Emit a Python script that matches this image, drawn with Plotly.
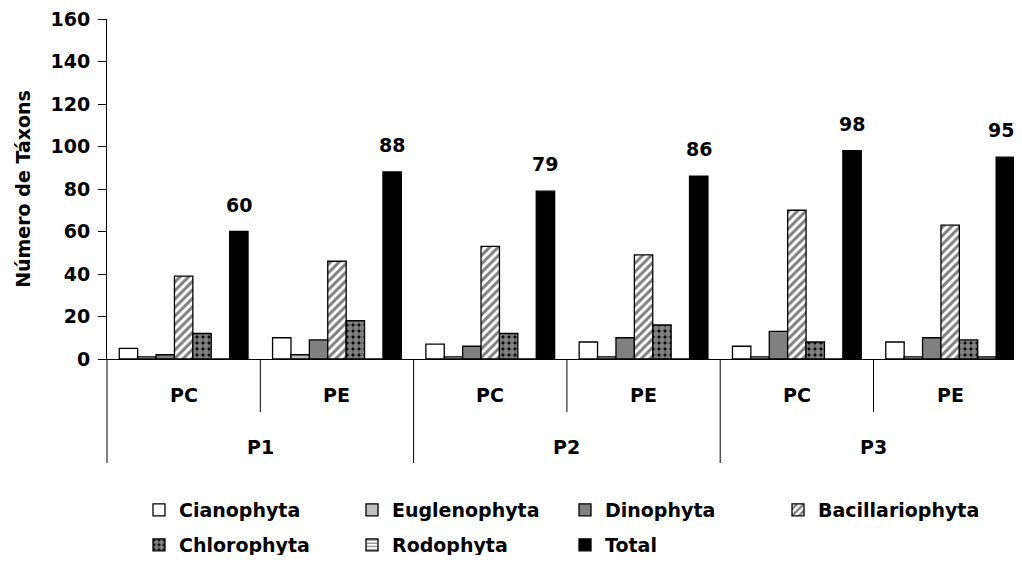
import plotly.graph_objects as go

# Categories
sites = ["P1", "P1", "P2", "P2", "P3", "P3"]
periods = ["PC", "PE", "PC", "PE", "PC", "PE"]

# Number of taxa per group
cianophyta = [5, 10, 7, 8, 6, 8]
euglenophyta = [1, 2, 1, 1, 1, 1]
dinophyta = [2, 9, 6, 10, 13, 10]
bacillariophyta = [39, 46, 53, 49, 70, 63]
chlorophyta = [12, 18, 12, 16, 8, 9]
rodophyta = [0, 0, 0, 0, 0, 1]
total = [60, 88, 79, 86, 98, 95]

FONT = "DejaVu Sans"
W, H = 1014, 547          # page body has an 8px margin
L, T, B = 99, 11, 196
VISIBLE_W = 1006          # right part of the page is hidden in the window
PLOT_W = W - L
PLOT_H = H - T - B
GROUP_PX = 153.3
BARGAP = 0.16
x_range = [-0.5, -0.5 + PLOT_W / GROUP_PX]


def to_paper(v):
    return (v - x_range[0]) / (x_range[1] - x_range[0])


x = [sites, periods]

series = [
    ("Cianophyta", cianophyta, dict(color="white"), "legend"),
    ("Euglenophyta", euglenophyta, dict(color="#c0c0c0"), "legend"),
    ("Dinophyta", dinophyta, dict(color="#808080"), "legend"),
    ("Bacillariophyta", bacillariophyta,
     dict(color="white", pattern=dict(shape="/", fgcolor="black", bgcolor="white",
                                      size=6, solidity=0.5)), "legend"),
    ("Chlorophyta", chlorophyta,
     dict(color="black", pattern=dict(shape=".", fgcolor="white", bgcolor="black",
                                      size=6, solidity=0.75)), "legend2"),
    ("Rodophyta", rodophyta,
     dict(color="white", pattern=dict(shape="-", fgcolor="black", bgcolor="white",
                                      size=4, solidity=0.4)), "legend2"),
]

fig = go.Figure()
for name, vals, mk, lg in series:
    fig.add_trace(go.Bar(name=name, x=x, y=vals, legend=lg,
                         marker=dict(line=dict(color="black", width=1.3), **mk)))

fig.add_trace(go.Bar(name="Total", x=x, y=total, legend="legend2",
                     marker=dict(color="black", line=dict(color="black", width=1.3))))

bold = dict(family=FONT, size=19, weight="bold", color="black")

# value labels above the Total bars
n_series = len(series) + 1
bar_w = (1 - BARGAP) / n_series
for i, v in enumerate(total):
    xc = i - (1 - BARGAP) / 2 + bar_w * (n_series - 0.5)
    xp = to_paper(xc)
    # keep the label inside the visible window
    right_px = L + xp * PLOT_W + 0.7 * 19 * len(str(v)) / 2
    shift = min(0, VISIBLE_W - right_px)
    fig.add_annotation(x=xp, xref="paper", xanchor="center", xshift=shift,
                       y=v, yref="y", text=str(v), showarrow=False,
                       yanchor="bottom", yshift=14, font=bold)

# category labels and separators below the axis
for i, p in enumerate(periods):
    fig.add_annotation(x=to_paper(i), xref="paper", xanchor="center",
                       y=-36 / PLOT_H, yref="paper", text=p, showarrow=False,
                       yanchor="middle", font=bold)
for k in range(0, len(sites), 2):
    fig.add_annotation(x=to_paper(k + 0.5), xref="paper", xanchor="center",
                       y=-88 / PLOT_H, yref="paper", text=sites[k], showarrow=False,
                       yanchor="middle", font=bold)
for i in range(len(sites) + 1):
    depth = 104 if i % 2 == 0 else 53
    xp = to_paper(i - 0.5)
    if xp > 1:
        continue
    fig.add_shape(type="line", xref="paper", yref="paper", x0=xp, x1=xp,
                  y0=0, y1=-depth / PLOT_H, line=dict(color="black", width=1))

fig.update_layout(
    width=W, height=H,
    barmode="group", bargap=BARGAP, bargroupgap=0,
    plot_bgcolor="white", paper_bgcolor="white",
    margin=dict(l=L, r=0, t=T, b=B, autoexpand=False),
    font=dict(family=FONT, size=19, color="black"),
    legend=dict(orientation="h", x=(131 - L) / PLOT_W, xanchor="left",
                y=-170 / PLOT_H, yanchor="bottom", entrywidth=168,
                font=bold, bgcolor="rgba(0,0,0,0)"),
    legend2=dict(orientation="h", x=(131 - L) / PLOT_W, xanchor="left",
                 y=-205 / PLOT_H, yanchor="bottom", entrywidth=168,
                 font=bold, bgcolor="rgba(0,0,0,0)"),
    showlegend=True,
)

fig.update_yaxes(range=[0, 160], dtick=20, showgrid=False, zeroline=False,
                 showline=True, linecolor="black", linewidth=1,
                 ticks="outside", ticklen=8, tickcolor="black", ticklabelstandoff=4,
                 ticklabeloverflow="allow", automargin=False,
                 tickfont=dict(family=FONT, size=19, weight="bold"),
                 title=dict(text="Número de Táxons", standoff=14,
                            font=dict(family=FONT, size=19, weight="bold")))
fig.update_xaxes(range=x_range, showline=True, linecolor="black", linewidth=1,
                 showgrid=False, ticks="", showticklabels=False, showdividers=False,
                 automargin=False)

fig.write_html("out.html")
